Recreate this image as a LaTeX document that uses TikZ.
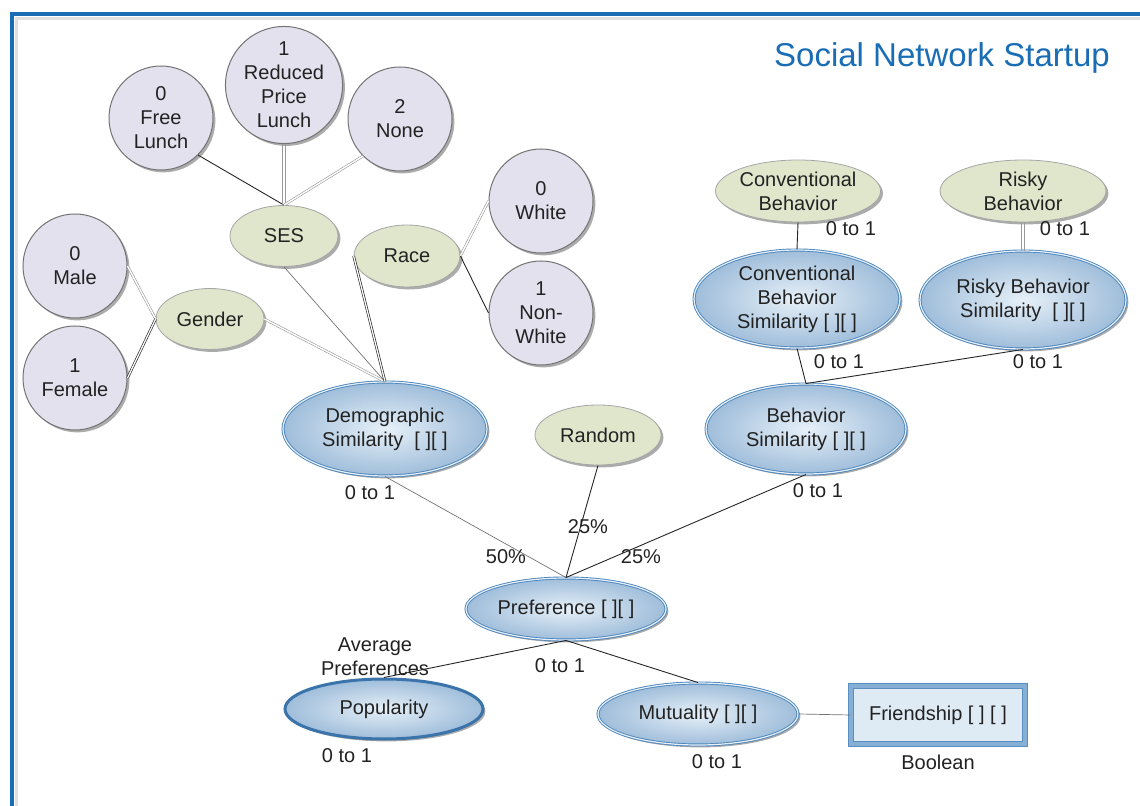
\documentclass[tikz,border=0pt]{standalone}
\usepackage{fontspec}
\setmainfont{Liberation Sans}
\usetikzlibrary{shapes.geometric,shadows}
\definecolor{frameblue}{HTML}{1A6DB5}
\definecolor{lav}{HTML}{E4E1EE}
\definecolor{grn}{HTML}{DFE6CC}
\definecolor{bin}{HTML}{E6F0F8}
\definecolor{bout}{HTML}{9FBDDA}
\definecolor{bedge}{HTML}{4D86BC}
\definecolor{popedge}{HTML}{3A74AB}
\definecolor{frfill}{HTML}{DEEBF5}
\definecolor{fredge}{HTML}{5B8EC1}
\definecolor{frmid}{HTML}{86AFD6}
\definecolor{txt}{HTML}{222222}
\begin{document}
\begin{tikzpicture}[x=0.5pt,y=-0.5pt,
  font=\fontsize{10}{12}\selectfont, text=txt,
  shad/.style={drop shadow={shadow xshift=1.2pt,shadow yshift=-1.2pt,fill=black!55,opacity=0.6}},
  valc/.style={circle, minimum size=52pt, inner sep=0pt, fill=lav, draw=black!55, line width=0.5pt, align=center, shad},
  grnell/.style={ellipse, inner sep=0pt, fill=grn, draw=black!35, line width=0.4pt, align=center, shad},
  blueell/.style={ellipse, inner sep=0pt, inner color=bin, outer color=bout, draw=bedge, double=bin, double distance=0.6pt, line width=0.45pt, align=center, shad},
  popell/.style={ellipse, inner sep=0pt, inner color=bin, outer color=bout, draw=popedge, line width=1.5pt, align=center, shad},
  frbox/.style={rectangle, inner sep=0pt, fill=frfill, draw=fredge, double=frmid, double distance=2.2pt, line width=0.45pt, align=center, drop shadow={shadow xshift=1pt,shadow yshift=-1pt,fill=black!30,opacity=0.5}},
  lbl/.style={inner sep=0pt, align=center},
  dk/.style={draw=black!85, line width=0.45pt},
  thg/.style={draw=black!55, line width=0.35pt},
  sg/.style={draw=black!40, line width=0.35pt},
  dblg/.style={draw=black!40, double=white, double distance=0.7pt, line width=0.3pt},
  dbld/.style={draw=black!80, double=white, double distance=0.6pt, line width=0.35pt}
]
\useasboundingbox (0,0) rectangle (1140,806);
\clip (0,0) rectangle (1140,806);
% frame
\draw[black!12, line width=1.5pt] (1160,18.5) -- (16.5,18.5) -- (16.5,830);
\draw[frameblue, line width=2pt] (1160,14) -- (12,14) -- (12,830);
\node[lbl, text=frameblue, font=\fontsize{16.5}{19}\selectfont] (title) at (942,58) {Social Network Startup};

% value circles
\node[valc] (fl) at (161,118) {0\\Free\\Lunch};
\node[valc] (rpl) at (284,85) {1\\Reduced\\Price\\Lunch};
\node[valc] (none) at (400,119) {2\\None};
\node[valc] (male) at (75,266) {0\\Male};
\node[valc] (female) at (75,378) {1\\Female};
\node[valc] (white) at (541,201) {0\\White};
\node[valc] (nonwhite) at (541,313) {1\\Non-\\White};

% green variables
\node[grnell, minimum width=54pt, minimum height=30.5pt] (ses) at (284,236) {SES};
\node[grnell, minimum width=53pt, minimum height=31pt] (race) at (407,256) {Race};
\node[grnell, minimum width=54pt, minimum height=30.5pt] (gender) at (210,319) {Gender};
\node[grnell, minimum width=63pt, minimum height=30pt] (random) at (598,435) {Random};
\node[grnell, minimum width=82pt, minimum height=31pt] (cb) at (798,191) {Conventional\\Behavior};
\node[grnell, minimum width=83pt, minimum height=31pt] (rb) at (1023,191) {Risky\\Behavior};

% blue similarity nodes
\node[blueell, minimum width=102pt, minimum height=47pt] (demo) at (385,429) {Demographic\\Similarity\ \ [ ][ ]};
\node[blueell, minimum width=103pt, minimum height=49pt] (cbs) at (797,299) {Conventional\\Behavior\\Similarity [ ][ ]};
\node[blueell, minimum width=103pt, minimum height=49pt] (rbs) at (1023,300) {Risky Behavior\\Similarity\ \ [ ][ ]};
\node[blueell, minimum width=100pt, minimum height=45pt] (bs) at (806,429) {Behavior\\Similarity [ ][ ]};
\node[blueell, minimum width=100pt, minimum height=31pt] (pref) at (566,609) {Preference [ ][ ]};
\node[popell, minimum width=99pt, minimum height=30pt] (pop) at (384,709) {Popularity};
\node[blueell, minimum width=100pt, minimum height=31pt] (mut) at (698,714) {Mutuality [ ][ ]};
\node[frbox, minimum width=87pt, minimum height=29pt] (friend) at (938,715) {Friendship [ ] [ ]};

% connectors
\draw[dk] (fl.-45) -- (ses.north);
\draw[sg] ([xshift=-0.6pt]rpl.south) -- ([xshift=-0.6pt]ses.north);
\draw[sg] ([xshift=0.6pt]rpl.south) -- ([xshift=0.6pt]ses.north);
\draw[dblg] (none.225) -- (ses.north);
\draw[dblg] (male.east) -- (gender.west);
\draw[dbld] (female.east) -- (gender.west);
\draw[dblg] (gender.east) -- (demo.north);
\draw[thg] (ses.south) -- (demo.north);
\draw[dbld] (race.west) -- (demo.north);
\draw[dblg] (race.east) -- (white.west);
\draw[dk] (race.east) -- (nonwhite.west);
\draw[dk] (cb.south) -- (cbs.north);
\draw[sg] ([xshift=-0.6pt]rb.south) -- ([xshift=-0.6pt]rbs.north);
\draw[sg] ([xshift=0.6pt]rb.south) -- ([xshift=0.6pt]rbs.north);
\draw[dk] (cbs.south) -- (bs.north);
\draw[dk] (rbs.south) -- (bs.north);
\draw[thg] (demo.south) -- (pref.north);
\draw[dk] (random.south) -- (pref.north);
\draw[dk] (bs.south) -- (pref.north);
\draw[dk] (pref.south) -- (pop.north);
\draw[dk] (pref.south) -- (mut.north);
\draw[thg] (mut.east) -- (friend.west);

% labels
\node[lbl] (l1) at (370,493) {0 to 1};
\node[lbl] (l2) at (851,229) {0 to 1};
\node[lbl] (l3) at (1065,229) {0 to 1};
\node[lbl] (l4) at (839,362) {0 to 1};
\node[lbl] (l5) at (1038,362) {0 to 1};
\node[lbl] (l6) at (818,491) {0 to 1};
\node[lbl] (p1) at (588,527) {25\%};
\node[lbl] (p2) at (506,557) {50\%};
\node[lbl] (p3) at (641,557) {25\%};
\node[lbl] (l7) at (560,666) {0 to 1};
\node[lbl] (avg) at (375,657) {Average\\Preferences};
\node[lbl] (l8) at (347,756) {0 to 1};
\node[lbl] (l9) at (717,762) {0 to 1};
\node[lbl] (bool) at (938,762) {Boolean};
\end{tikzpicture}
\end{document}
